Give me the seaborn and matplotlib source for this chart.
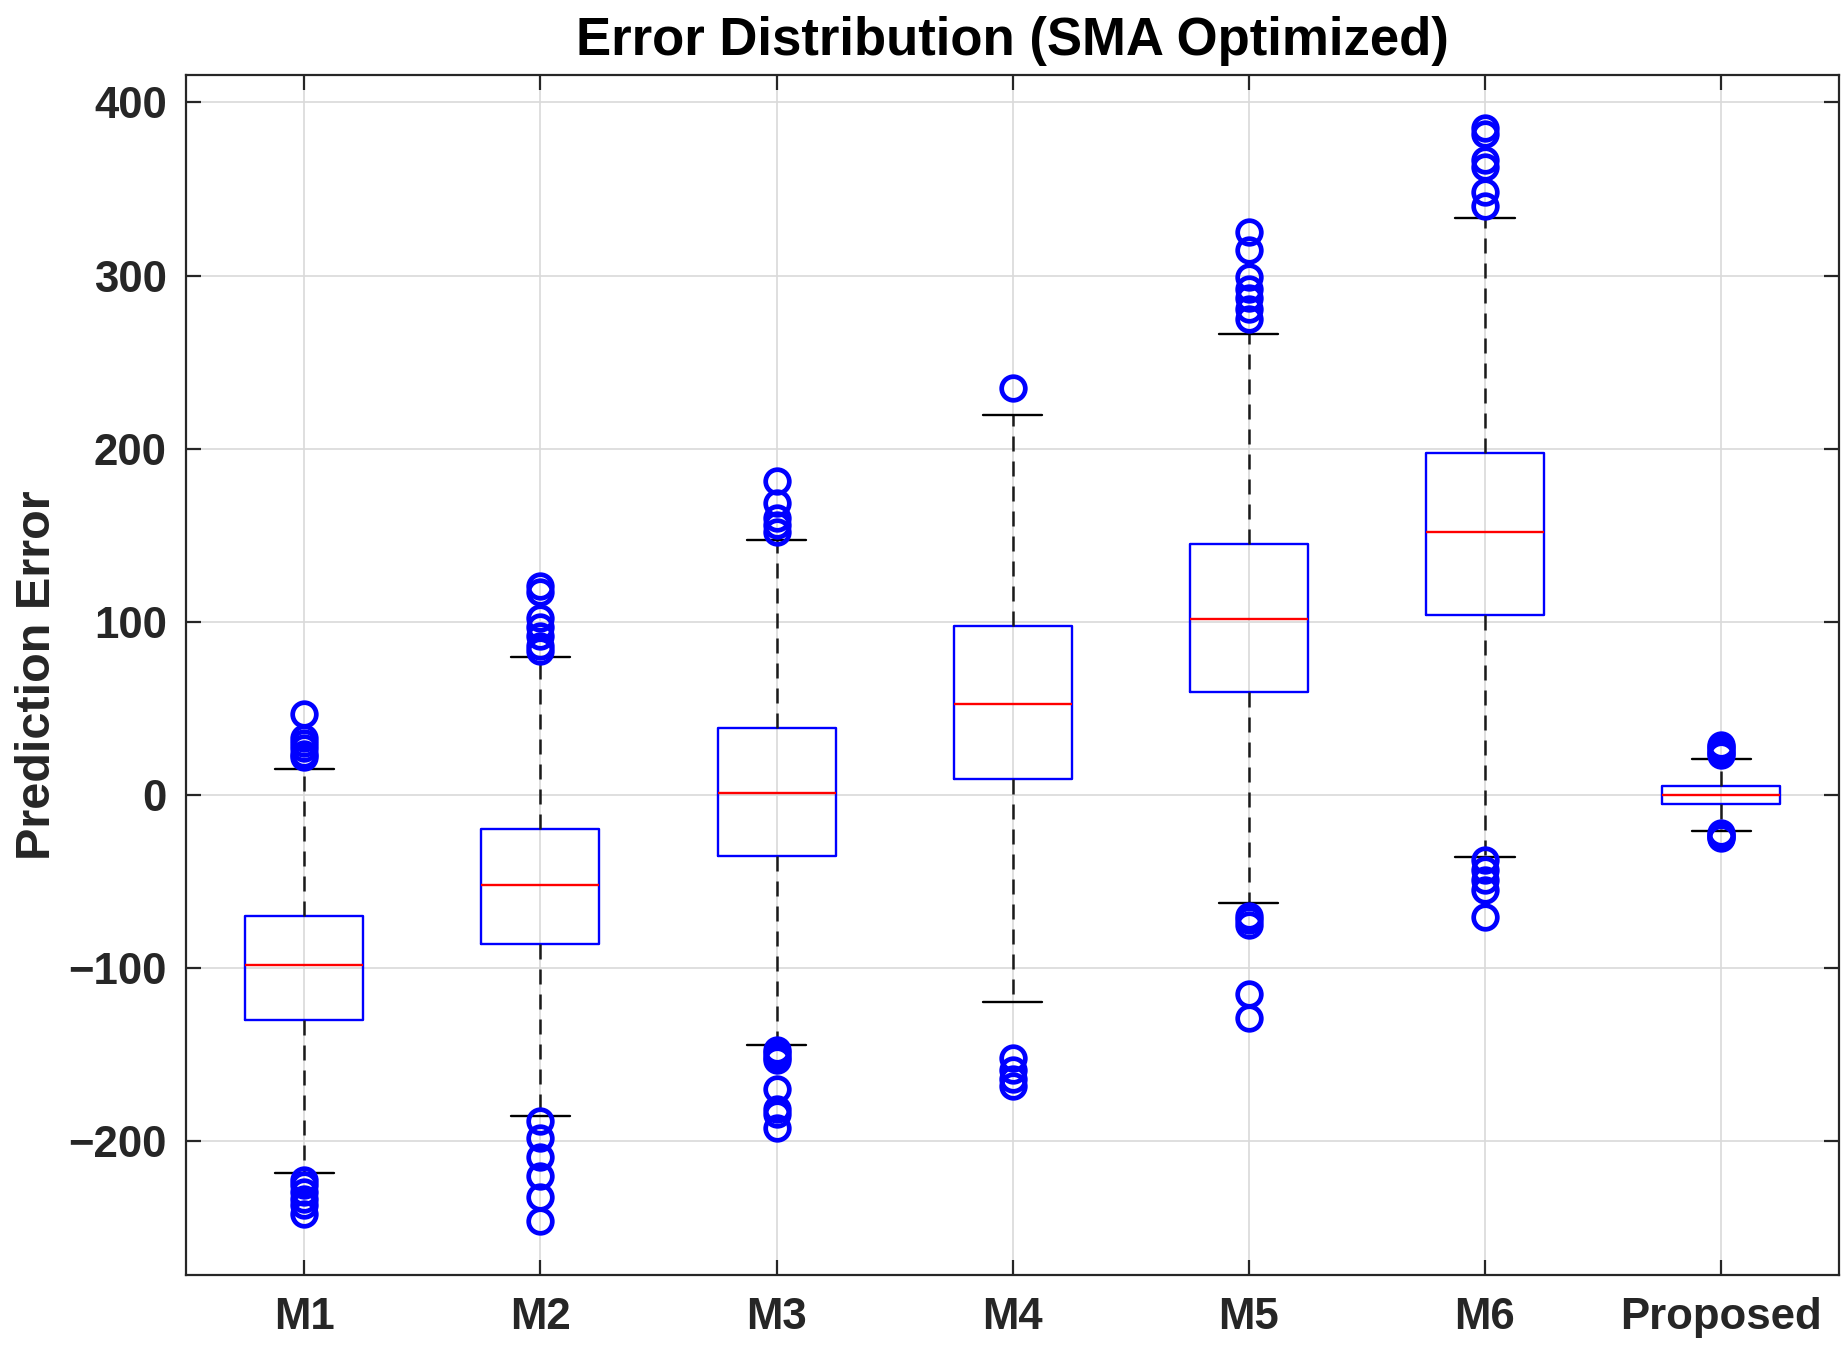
import numpy as np
import pandas as pd
import matplotlib
matplotlib.use("Agg")
import matplotlib.pyplot as plt
import seaborn as sns

# Box statistics (one entry per model)
models = ["M1", "M2", "M3", "M4", "M5", "M6", "Proposed"]
q1 = [-130, -86, -35, 9.4, 59.8, 104, -5.4]
medians = [-98, -52, 1.2, 52.5, 101.7, 152, 0.3]
q3 = [-70, -19.5, 39, 97.6, 145, 197.5, 5.2]
whisker_lo = [-218, -185.5, -144.6, -119.5, -62.2, -35.9, -20.9]
whisker_hi = [15, 80, 147.3, 219.7, 266, 333, 20.8]
outliers_lo = [
    [-222, -225, -229, -233, -237, -242],
    [-188, -198, -209, -220, -232, -246],
    [-147, -149, -151, -153, -170, -181.5, -184, -192.5],
    [-152, -159, -164, -168],
    [-70, -72, -75, -115, -129],
    [-37.5, -43, -49, -55, -70.4],
    [-22, -23, -24, -25],
]
outliers_hi = [
    [22, 24, 27, 30, 33, 47],
    [83, 86, 92, 97, 102, 117, 121],
    [152, 156, 160, 168.6, 181.6],
    [235],
    [275, 281, 287, 292, 299, 315, 325],
    [340, 348, 363, 367, 382, 385],
    [23, 24.5, 26, 27.5, 29],
]

# Build sample values whose quartiles / whiskers / fliers match the stats above
k = 40
rows = []
for i, m in enumerate(models):
    vals = (outliers_lo[i] + [whisker_lo[i]] + [q1[i]] * k + [medians[i]] * k
            + [q3[i]] * k + [whisker_hi[i]] + outliers_hi[i])
    for v in vals:
        rows.append({"Model": m, "Error": v})
df = pd.DataFrame(rows)

sns.set_style("ticks")
plt.rcParams['font.family'] = ['Liberation Sans', 'DejaVu Sans']
plt.rcParams['axes.unicode_minus'] = True

fig, ax = plt.subplots(figsize=(18.44, 13.59), dpi=100)
fig.subplots_adjust(left=0.101, right=0.9974, top=0.945, bottom=0.062)

sns.boxplot(data=df, x="Model", y="Error", order=models, width=0.5, fill=False,
            whis=1.5, ax=ax,
            boxprops=dict(color="blue", linewidth=1.7),
            medianprops=dict(color="red", linewidth=1.7),
            whiskerprops=dict(color="#1a1a1a", linewidth=1.8, linestyle=(0, (6, 4))),
            capprops=dict(color="black", linewidth=1.7),
            flierprops=dict(marker="o", markerfacecolor="none", markeredgecolor="blue",
                            markersize=17, markeredgewidth=3.4))

ax.set_ylim(-277, 416)
ax.set_xlim(-0.5, 6.5)
ax.set_yticks([-200, -100, 0, 100, 200, 300, 400])
ax.grid(True, color="#d9d9d9", linewidth=1.2)
ax.set_axisbelow(True)
for s in ax.spines.values():
    s.set_visible(True)
    s.set_linewidth(1.6)
    s.set_color("#262626")
ax.tick_params(direction="in", length=11, width=1.6, top=True, right=True,
               color="#262626", labelcolor="#262626", labelsize=31.5)
ax.tick_params(axis="x", pad=16)
ax.tick_params(axis="y", pad=14)
for lab in ax.get_xticklabels() + ax.get_yticklabels():
    lab.set_fontweight("bold")

ax.set_xlabel("")
ax.set_ylabel("Prediction Error", fontsize=35, fontweight="bold", color="#262626", labelpad=6)
ax.set_title("Error Distribution (SMA Optimized)", fontsize=38, fontweight="bold",
             color="black", pad=14)

plt.savefig("out.png", dpi=100)
